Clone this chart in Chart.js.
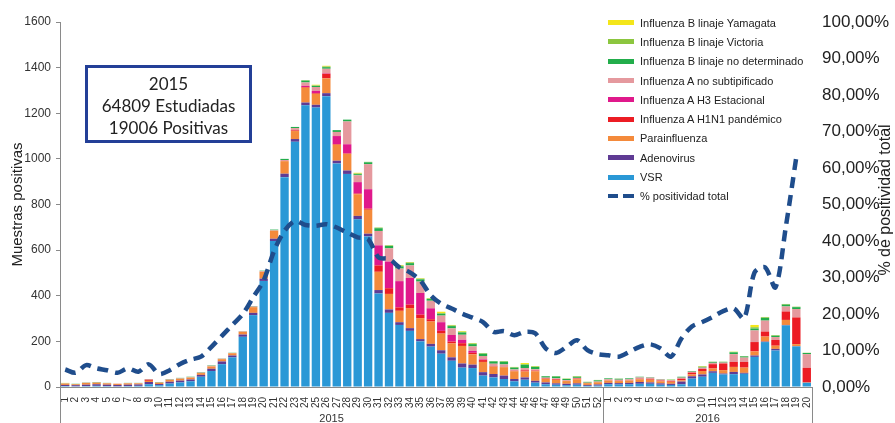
<!DOCTYPE html>
<html>
<head>
<meta charset="utf-8">
<script src="https://cdn.jsdelivr.net/npm/chart.js@4.4.1/dist/chart.umd.min.js"></script>
<style>
  html, body { margin:0; padding:0; background:#fff; }
  #wrap { position:relative; width:895px; height:423px; overflow:hidden; }
  #box { position:absolute; left:85px; top:65px; width:161px; border:3px solid #233f97;
         font-family: Lato, "Open Sans", sans-serif; font-size:17px; line-height:22px; color:#222;
         text-align:center; padding-top:5px; box-sizing:content-box; height:67px; }
  #legend { position:absolute; left:608px; top:13px; font-family:"Liberation Sans", Arial, sans-serif;
            font-size:11px; color:#222; }
  .row { height:19.3px; display:flex; align-items:center; }
  .sw { width:26px; height:5px; margin-right:6px; }
  .dash { width:26px; height:4px; margin-right:6px;
          background: linear-gradient(90deg,#1f4d8c 0 10px,transparent 10px 15px,#1f4d8c 15px 26px); }
</style>
</head>
<body>
<div id="wrap">
  <canvas id="chart" width="895" height="423"></canvas>
  <div id="box">2015<br>64809 Estudiadas<br>19006 Positivas</div>
  <div id="legend"></div>
</div>
<script>
// Semanas epidemiológicas 2015 (1-52) y 2016 (1-20)
const weeks = ['1','2','3','4','5','6','7','8','9','10','11','12','13','14','15','16','17','18','19','20',
  '21','22','23','24','25','26','27','28','29','30','31','32','33','34','35','36','37','38','39','40',
  '41','42','43','44','45','46','47','48','49','50','51','52',
  '1','2','3','4','5','6','7','8','9','10','11','12','13','14','15','16','17','18','19','20'];
const years = ['2015', '2016'];

// Muestras positivas por agente (apiladas de abajo hacia arriba)
const vsr = [4,3,4,5,4,3,4,5,12,8,15,20,25,45,70,100,130,220,315,465,640,920,1075,1235,1225,1275,980,934,735,660,
  410,325,272,246,200,177,146,115,85,83,50,42,35,25,32,19,12,10,8,10,5,6,
  12,11,12,14,14,10,9,12,37,45,62,55,56,58,132,197,160,270,178,18];
const adenovirus = [5,5,6,7,6,6,6,6,10,5,8,8,8,8,10,12,8,10,10,10,10,15,12,12,12,13,12,15,15,12,
  15,15,12,12,10,12,15,15,18,15,15,15,15,10,10,8,8,6,6,6,4,5,
  6,6,6,8,6,6,5,12,10,10,7,4,10,4,6,2,7,2,1,1];
const parainfluenza = [6,4,8,7,6,5,6,5,5,6,8,8,8,8,10,10,10,12,25,30,35,55,35,65,48,65,70,73,95,105,
  80,68,50,88,92,98,73,61,77,45,45,32,37,34,26,42,15,15,12,18,8,10,
  10,9,10,12,12,9,9,5,8,15,12,15,22,23,18,22,14,22,9,2];
const h1n1 = [0,0,0,0,0,0,0,0,5,0,0,0,0,0,0,0,0,0,0,0,0,0,3,3,3,20,3,2,3,5,
  28,25,15,15,15,10,12,8,12,7,8,2,0,2,5,3,2,3,0,3,0,0,
  1,1,1,2,3,3,3,7,8,9,19,29,22,25,41,22,25,37,117,63];
const h3 = [0,0,0,0,0,0,0,0,0,0,0,0,0,0,0,0,0,0,0,0,0,0,0,5,10,2,35,40,50,85,
  88,117,115,117,95,48,38,29,15,8,3,0,0,0,0,0,0,0,0,0,0,0,
  0,0,0,0,0,0,0,0,0,0,0,0,0,0,0,0,0,0,0,0];
const aNoSub = [1,0,1,1,1,1,1,1,2,1,2,2,2,2,3,2,1,2,3,3,2,5,10,15,17,20,18,100,30,110,
  63,58,55,55,50,33,29,29,22,20,15,11,12,6,10,6,4,4,4,3,2,3,
  5,5,5,6,6,5,4,5,4,6,6,4,34,19,51,48,13,22,37,60];
const bNoDet = [1,2,1,2,1,0,1,1,1,2,2,2,2,2,2,1,1,1,2,2,3,5,5,8,5,7,8,8,5,8,
  12,10,10,10,10,8,8,10,10,10,10,10,12,8,14,10,6,8,5,5,3,5,
  4,4,4,3,2,2,2,4,3,3,4,3,8,5,8,12,6,8,8,5];
const bVictoria = [0,0,0,0,0,0,0,0,0,0,0,0,0,0,0,0,0,0,0,0,0,0,0,2,2,3,0,0,3,2,
  3,3,3,3,3,2,3,3,3,3,2,2,2,2,3,2,1,2,2,2,1,2,
  0,1,0,0,0,0,0,0,0,2,1,1,2,2,6,3,2,3,2,1];
const bYamagata = [1,0,0,0,0,0,0,0,0,0,0,0,0,0,0,0,0,0,0,0,0,0,0,0,3,3,0,0,3,0,
  0,0,3,2,2,2,6,2,3,2,1,0,1,1,5,2,0,0,0,1,0,0,
  0,0,0,0,0,0,1,0,0,2,0,0,1,0,10,1,1,0,0,0];

// % positividad total
const positividad = [4.8,3.9,6.0,5.1,4.6,3.9,5.1,4.2,6.2,3.6,4.6,6.3,7.5,8.3,11.0,14.0,17.0,20.0,24.6,29.2,
  37.3,42.8,45.5,44.4,44.2,44.6,43.7,42.3,41.0,40.5,35.5,35.1,32.8,31.4,29.2,25.1,22.8,21.5,20.1,19.0,
  17.8,15.1,15.3,14.2,15.1,14.7,10.6,9.3,11.0,12.8,10.1,9.0,
  8.7,8.3,9.6,11.0,11.7,10.6,8.3,13.3,16.6,17.8,19.2,20.8,21.5,18.8,31.4,32.8,27.3,44.0,63.0,null];

const series = [
  ['VSR', vsr, '#2a98d6'],
  ['Adenovirus', adenovirus, '#5f3b94'],
  ['Parainfluenza', parainfluenza, '#f48a3b'],
  ['Influenza A H1N1 pandémico', h1n1, '#ec1c24'],
  ['Influenza A H3 Estacional', h3, '#e0198b'],
  ['Influenza A no subtipificado', aNoSub, '#e5999e'],
  ['Influenza B linaje no determinado', bNoDet, '#22ad4b'],
  ['Influenza B linaje Victoria', bVictoria, '#8cc63f'],
  ['Influenza B linaje Yamagata', bYamagata, '#f4e61a']
];
const lineColor = '#1f4d8c';

Chart.defaults.font.family = '"Liberation Sans", Arial, sans-serif';
Chart.defaults.color = '#333';

const datasets = series.map(([label, data, color]) => ({
  type: 'bar', label, data, backgroundColor: color, order: 1,
  barPercentage: 0.8, categoryPercentage: 1.0, yAxisID: 'y'
}));
datasets.push({
  type: 'line', label: '% positividad total', data: positividad, yAxisID: 'y1', order: 0,
  borderColor: lineColor, borderWidth: 4.5, borderDash: [11, 7], pointRadius: 0,
  tension: 0.3, fill: false
});

// Leyenda en HTML, mismo orden que el original (arriba de la pila primero)
const legend = document.getElementById('legend');
series.slice().reverse().forEach(([label, , color]) => {
  legend.insertAdjacentHTML('beforeend',
    `<div class="row"><span class="sw" style="background:${color}"></span>${label}</div>`);
});
legend.insertAdjacentHTML('beforeend', `<div class="row"><span class="dash"></span>% positividad total</div>`);

// Títulos de ejes, años y separadores
const extras = {
  id: 'extras',
  afterDraw(chart) {
    const { ctx, chartArea: a, scales: { x } } = chart;
    const mid = (x.getPixelForValue(51) + x.getPixelForValue(52)) / 2;
    ctx.save();
    ctx.strokeStyle = '#8a8a8a';
    ctx.lineWidth = 1;
    ctx.beginPath();
    [a.left, mid, a.right].forEach(px => {
      ctx.moveTo(Math.round(px) + 0.5, a.bottom);
      ctx.lineTo(Math.round(px) + 0.5, chart.height);
    });
    ctx.stroke();

    ctx.fillStyle = '#333';
    ctx.font = '11px "Liberation Sans", Arial, sans-serif';
    ctx.textAlign = 'center';
    ctx.textBaseline = 'middle';
    ctx.fillText(years[0], (a.left + mid) / 2, 419);
    ctx.fillText(years[1], (mid + a.right) / 2, 419);

    ctx.fillStyle = '#222';
    ctx.font = '15px "Liberation Sans", Arial, sans-serif';
    ctx.translate(18, (a.top + a.bottom) / 2);
    ctx.rotate(-Math.PI / 2);
    ctx.fillText('Muestras positivas', 0, 0);
    ctx.restore();

    ctx.save();
    ctx.fillStyle = '#222';
    ctx.font = '16px "Liberation Sans", Arial, sans-serif';
    ctx.textAlign = 'center';
    ctx.textBaseline = 'middle';
    ctx.translate(886, 200);
    ctx.rotate(-Math.PI / 2);
    ctx.fillText('% de positividad total', 0, 0);
    ctx.restore();
  }
};

new Chart(document.getElementById('chart'), {
  data: { labels: weeks, datasets },
  options: {
    responsive: false,
    animation: false,
    layout: { padding: { top: 22, right: 0, left: 0, bottom: 0 } },
    plugins: { legend: { display: false }, tooltip: { enabled: false } },
    scales: {
      x: {
        stacked: true,
        grid: { display: false },
        border: { color: '#8a8a8a' },
        ticks: { autoSkip: false, minRotation: 90, maxRotation: 90, padding: 2,
                 font: { size: 10 }, color: '#333' },
        afterFit: s => { s.height = 36; }
      },
      y: {
        stacked: true, min: 0, max: 1600,
        ticks: { stepSize: 200, font: { size: 12 }, color: '#333', padding: 5,
                 callback: v => String(v) },
        grid: { drawOnChartArea: false, tickLength: 4, color: '#8a8a8a' },
        border: { color: '#8a8a8a' },
        afterFit: s => { s.width = 60; }
      },
      y1: {
        position: 'right', min: 0, max: 100,
        ticks: { stepSize: 10, font: { size: 17 }, color: '#222', padding: 10,
                 callback: v => v.toFixed(2).replace('.', ',') + '%' },
        grid: { display: false, drawTicks: false },
        border: { display: false },
        afterFit: s => { s.width = 83; }
      }
    }
  },
  plugins: [extras]
});
</script>
</body>
</html>
